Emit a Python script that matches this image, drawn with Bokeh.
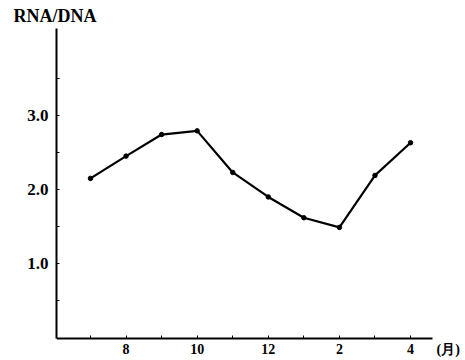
from bokeh.plotting import figure
from bokeh.models import FixedTicker, Label, Range1d, Title
from bokeh.embed import file_html
from bokeh.resources import INLINE

months = ["7", "8", "9", "10", "11", "12", "1", "2", "3", "4"]
ratio = [2.15, 2.45, 2.74, 2.79, 2.23, 1.90, 1.62, 1.49, 2.19, 2.63]
x_labels = {1: "8", 3: "10", 5: "12", 7: "2", 9: "4"}
y_ticks = [0.5, 1.0, 1.5, 2.0, 2.5, 3.0, 3.5]
y_labels = {1.0: "1.0", 2.0: "2.0", 3.0: "3.0"}
y_title = "RNA/DNA"
x_unit = "(月)"

xs = list(range(len(months)))

FONT = "Liberation Serif"

X_LO, X_AX_HI, X_HI = -0.956, 9.62, 10.545
Y_LO, Y_HI = -0.302, 4.168

p = figure(width=465, height=360, output_backend="svg", toolbar_location=None,
           x_range=Range1d(X_LO, X_HI), y_range=Range1d(Y_LO, Y_HI),
           min_border_left=56, min_border_right=0, min_border_top=27,
           min_border_bottom=0)
p.outline_line_color = None
p.xgrid.grid_line_color = None
p.ygrid.grid_line_color = None
p.background_fill_color = "white"
p.border_fill_color = "white"

p.line(xs, ratio, line_color="black", line_width=2.2)
p.scatter(xs, ratio, size=4.5, color="black")

xa = p.xaxis[0]
xa.fixed_location = 0
xa.bounds = (X_LO, X_AX_HI)
xa.ticker = FixedTicker(ticks=xs)
xa.major_label_overrides = {i: x_labels.get(i, "") for i in xs}
xa.major_tick_in = 3
xa.major_tick_out = 0
xa.minor_tick_line_color = None
xa.axis_line_width = 2
xa.major_tick_line_width = 1
xa.major_label_standoff = 6
xa.major_label_text_font = FONT
xa.major_label_text_font_style = "bold"
xa.major_label_text_font_size = "14px"
xa.major_label_text_color = "black"
xa.axis_line_color = "black"
xa.major_tick_line_color = "black"

ya = p.yaxis[0]
ya.bounds = (0, Y_HI)
ya.ticker = FixedTicker(ticks=y_ticks)
ya.major_label_overrides = {t: y_labels.get(t, "") for t in y_ticks}
ya.major_tick_in = 3
ya.major_tick_out = 0
ya.minor_tick_line_color = None
ya.axis_line_width = 2
ya.major_tick_line_width = 1
ya.major_label_standoff = 8
ya.major_label_text_font = FONT
ya.major_label_text_font_style = "bold"
ya.major_label_text_font_size = "17px"
ya.major_label_text_color = "black"
ya.axis_line_color = "black"
ya.major_tick_line_color = "black"

t = Title(text=y_title, align="left", offset=-43, text_font=FONT,
          text_font_style="bold", text_font_size="18px", text_color="black",
          standoff=6)
p.add_layout(t, "above")

p.add_layout(Label(x=9.73, y=-0.154, text=x_unit,
                   text_font=FONT, text_font_style="bold", text_font_size="14px",
                   text_baseline="middle", text_align="left", text_color="black"))

open("out.html", "w").write(file_html(p, INLINE))
